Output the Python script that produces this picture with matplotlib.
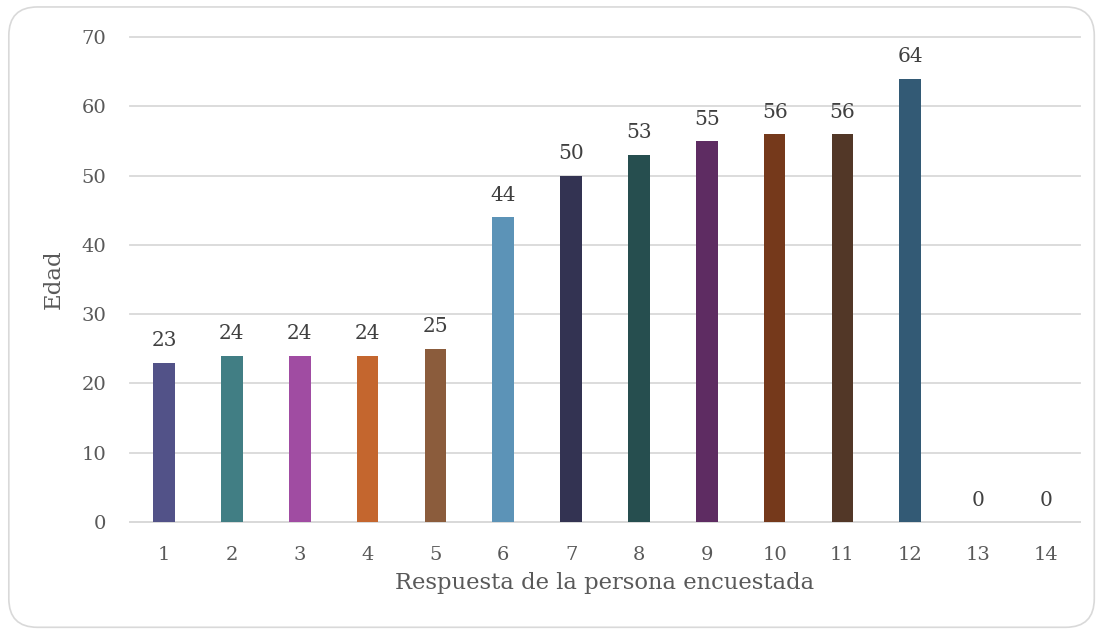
import matplotlib.pyplot as plt
from matplotlib.patches import FancyBboxPatch

# Data
categories = [str(i) for i in range(1, 15)]
edades = [23, 24, 24, 24, 25, 44, 50, 53, 55, 56, 56, 64, 0, 0]
colores = ['#525288', '#417E84', '#A04CA2', '#C4662E', '#8B5C3C', '#5C93B7',
           '#333352', '#264E4F', '#5E2C62', '#75391B', '#523727', '#335A75',
           '#4F6228', '#7F6084']

plt.rcParams['font.family'] = ['DejaVu Serif']

fig = plt.figure(figsize=(11.02, 6.33), dpi=100)

# Rounded frame around the chart (drawn behind the axes)
frame = FancyBboxPatch((0.008, 0.009), 0.985, 0.980,
                       boxstyle='round,pad=0,rounding_size=0.026',
                       transform=fig.transFigure, facecolor='white',
                       edgecolor='#D9D9D9', linewidth=1.2, mutation_aspect=1.74,
                       zorder=-1)
fig.patches.append(frame)

ax = fig.add_axes([0.118, 0.1754, 0.862, 0.766])
ax.set_facecolor('none')

x = list(range(len(categories)))
bars = ax.bar(x, edades, width=0.32, color=colores, zorder=3)

for xi, v in zip(x, edades):
    ax.text(xi, v + 1.8, str(v), ha='center', va='bottom',
            fontsize=14.5, color='#404040', zorder=4)

ax.set_xlim(-0.5, len(categories) - 0.5)
ax.set_ylim(0, 70)
ax.set_yticks(range(0, 71, 10))
ax.set_xticks(x)
ax.set_xticklabels(categories)
ax.tick_params(axis='both', length=0, labelsize=14, labelcolor='#595959')
ax.tick_params(axis='x', pad=17)
ax.tick_params(axis='y', pad=17)

ax.grid(axis='y', color='#D9D9D9', linewidth=1.3, zorder=0)
for gl in ax.get_ygridlines():
    gl.set_clip_on(False)
for s in ['top', 'right', 'left']:
    ax.spines[s].set_visible(False)
ax.spines['bottom'].set_color('#D9D9D9')
ax.spines['bottom'].set_linewidth(1.3)

ax.set_xlabel('Respuesta de la persona encuestada', fontsize=16.3,
              color='#595959', labelpad=6)
ax.set_ylabel('Edad', fontsize=16.5, color='#595959', labelpad=12)

plt.savefig('out.png', dpi=100)
